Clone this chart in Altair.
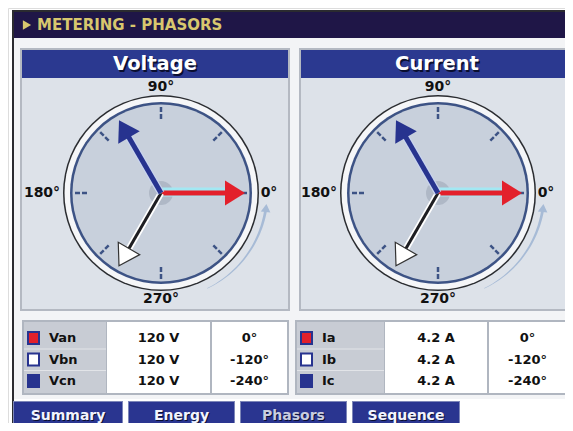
import math
import altair as alt
import pandas as pd

# ---------------- data ----------------
header_title = "METERING - PHASORS"
panel_titles = ["Voltage", "Current"]
phase_colors = ["#e3202b", "#ffffff", "#27338f"]
voltage_names = ["Van", "Vbn", "Vcn"]
voltage_mag = [120, 120, 120]
voltage_text = ["120 V", "120 V", "120 V"]
current_names = ["Ia", "Ib", "Ic"]
current_mag = [4.2, 4.2, 4.2]
current_text = ["4.2 A", "4.2 A", "4.2 A"]
phase_angles = [0, -120, -240]
angle_text = ["0°", "-120°", "-240°"]
dial_angles = [0, 90, 180, 270]
dial_text = ["0°", "90°", "180°", "270°"]
tab_labels = ["Summary", "Energy", "Phasors", "Sequence"]
active_tab = "Phasors"

# ---------------- layout (screen pixels) ----------------
W, H = 557, 415
OX, OY = 8, 8
FONT = "DejaVu Sans"

xs = alt.Scale(domain=[OX, OX + W], nice=False, zero=False)
ys = alt.Scale(domain=[OY, OY + H], nice=False, zero=False, reverse=True)


def X(f="x"):
    return alt.X(f"{f}:Q", scale=xs, axis=None)


def Y(f="y"):
    return alt.Y(f"{f}:Q", scale=ys, axis=None)


panel_x = [(22, 288), (301, 568)]
centers = [161, 438]
CY = 193
table_x = [(24, 106, 107, 210, 212, 287), (297, 384, 385, 487, 489, 566)]
row_y = [338, 359.5, 381]
tab_x = [(13, 123), (128, 235), (240, 347), (352, 460)]

# ---------------- rectangles ----------------
rects = []


def R(x, y, x2, y2, fill):
    rects.append(dict(x=max(x, OX), y=max(y, OY), x2=min(x2, OX + W),
                      y2=min(y2, OY + H), fill=fill))


R(12, 10, 573, 431, "#2b2b30")
R(14, 12, 573, 38, "#1f1647")
R(14, 38, 573, 431, "#f3f4f6")
R(14, 399, 573, 431, "#ffffff")
for p in range(2):
    a, b = panel_x[p]
    R(a - 2, 48, b + 2, 311, "#b4b9c2")
    R(a, 50, b, 309, "#dde2e9")
    R(a, 50, b, 78, "#2b3990")
    t = table_x[p]
    R(t[0] - 2, 320, t[5] + 2, 395, "#b0b6c0")
    R(t[0], 322, t[1], 393, "#c8ccd4")
    R(t[0], 348.5, t[1], 349.5, "#e2e4e8")
    R(t[0], 370, t[1], 371, "#e2e4e8")
    R(t[2], 322, t[3], 393, "#ffffff")
    R(t[4], 322, t[5], 393, "#ffffff")
    for i in range(3):
        sx = t[0] + 3
        ry = row_y[i]
        R(sx, ry - 7, sx + 13, ry + 7, "#27338f")
        R(sx + 2, ry - 5, sx + 11, ry + 5, phase_colors[i])
for (a, b) in tab_x:
    R(a, 401, b, 431, "#7d86b8")
    R(a + 1, 402, b - 1, 431, "#2a3590")

rect_layer = alt.Chart(pd.DataFrame(rects)).mark_rect().encode(
    x=X(), x2="x2:Q", y=Y(), y2="y2:Q", color=alt.Color("fill:N", scale=None))

# ---------------- dial discs ----------------
circ = []
for p in range(2):
    cx = centers[p]
    for r, f in [(98, "#2a2c30"), (96.5, "#f5f6f8"), (91, "#3d5385"), (88.5, "#c8d0dc")]:
        circ.append(dict(x=cx, y=CY, size=(2 * r) ** 2, fill=f))
circ_layer = alt.Chart(pd.DataFrame(circ)).mark_point(
    shape="circle", filled=True, opacity=1, strokeWidth=0).encode(
    x=X(), y=Y(), size=alt.Size("size:Q", scale=None), color=alt.Color("fill:N", scale=None))

# ticks every 45 degrees
ticks = []
for p in range(2):
    cx = centers[p]
    for k in range(8):
        a = math.radians(k * 45)
        ticks.append(dict(x=cx + 74 * math.cos(a), y=CY - 74 * math.sin(a),
                          x2=cx + 86 * math.cos(a), y2=CY - 86 * math.sin(a)))
tick_layer = alt.Chart(pd.DataFrame(ticks)).mark_rule(
    color="#3d5385", strokeWidth=2.5, strokeDash=[5, 2]).encode(
    x=X(), y=Y(), x2="x2:Q", y2="y2:Q")

# rotation arc (counter-clockwise indicator)
arc = []
n = 30
for p in range(2):
    cx = centers[p]
    for j in range(n + 1):
        phi = math.radians(-64 + 54 * j / n)
        arc.append(dict(x=cx + 106 * math.cos(phi), y=CY - 106 * math.sin(phi),
                        w=0.5 + 2.3 * j / n, o=j, g=p))
arc_layer = alt.Chart(pd.DataFrame(arc)).mark_trail(color="#a7bbd6").encode(
    x=X(), y=Y(), size=alt.Size("w:Q", scale=None), order="o:Q", detail="g:N")
arc_heads = []
for p in range(2):
    phi = math.radians(-6)
    arc_heads.append(dict(x=centers[p] + 106 * math.cos(phi), y=CY - 106 * math.sin(phi),
                          rot=(360 - 84) % 360))
arc_head_layer = alt.Chart(pd.DataFrame(arc_heads)).mark_point(
    shape="M0,0L-1,-0.6L-1,0.6Z", filled=True, opacity=1, size=256,
    color="#a7bbd6", strokeWidth=0).encode(
    x=X(), y=Y(), angle=alt.Angle("rot:Q", scale=None))

# hub
hub = [dict(x=centers[p], y=CY) for p in range(2)]
hub_layer = alt.Chart(pd.DataFrame(hub)).mark_point(
    shape="circle", filled=True, opacity=0.8, size=(2 * 12) ** 2,
    color="#a9b2c1", strokeWidth=0).encode(x=X(), y=Y())

# ---------------- phasors ----------------
shafts, heads = [], []
HEAD = 20
for p in range(2):
    cx = centers[p]
    mags = voltage_mag if p == 0 else current_mag
    for i in range(3):
        th = math.radians(phase_angles[i] % 360)
        L = 84 * mags[i] / max(mags)
        ex, ey = cx + (L - HEAD + 3) * math.cos(th), CY - (L - HEAD + 3) * math.sin(th)
        if i == 0:
            under, uw, main, mw, dy = "#a3e8f3", 9, phase_colors[0], 5, -1
        elif i == 1:
            under, uw, main, mw, dy = "#ffffff", 6.5, "#1e1e22", 3, 0
        else:
            under, uw, main, mw, dy = "#c9d4ee", 7.5, phase_colors[2], 5, 0
        shafts.append(dict(x=cx, y=CY + dy, x2=ex, y2=ey + dy, c=under, w=uw))
        shafts.append(dict(x=cx, y=CY, x2=ex, y2=ey, c=main, w=mw))
        heads.append(dict(x=cx + L * math.cos(th), y=CY - L * math.sin(th),
                          rot=(360 - phase_angles[i] % 360) % 360,
                          c=phase_colors[i], s="#333333" if i == 1 else phase_colors[i],
                          sw=1.2 if i == 1 else 0))
shaft_layer = alt.Chart(pd.DataFrame(shafts)).mark_rule().encode(
    x=X(), y=Y(), x2="x2:Q", y2="y2:Q",
    color=alt.Color("c:N", scale=None), strokeWidth=alt.StrokeWidth("w:Q", scale=None))
head_layer = alt.Chart(pd.DataFrame(heads)).mark_point(
    shape="M0,0L-1,-0.62L-1,0.62Z", filled=True, opacity=1, size=(2 * HEAD) ** 2).encode(
    x=X(), y=Y(), angle=alt.Angle("rot:Q", scale=None),
    color=alt.Color("c:N", scale=None), stroke=alt.Stroke("s:N", scale=None),
    strokeWidth=alt.StrokeWidth("sw:Q", scale=None))

# header triangle
tri_layer = alt.Chart(pd.DataFrame([dict(x=27, y=25)])).mark_point(
    shape="triangle-right", filled=True, opacity=1, size=90, color="#d8c76e",
    strokeWidth=0).encode(x=X(), y=Y())

# ---------------- text ----------------
tc, tl = [], []
tl.append(dict(x=37, y=25, t=header_title, c="#d8c76e", s=15))
title_cx = [155, 437]
for p in range(2):
    tc.append(dict(x=title_cx[p] + 1.5, y=65.5, t=panel_titles[p], c="#0a0f30", s=19.5))
    tc.append(dict(x=title_cx[p], y=64, t=panel_titles[p], c="#ffffff", s=19.5))
    cx = centers[p]
    offs = {0: (108, 0), 90: (0, -106), 180: (-119, 0), 270: (0, 106)}
    for a, lab in zip(dial_angles, dial_text):
        dx, dy = offs[a]
        tc.append(dict(x=cx + dx, y=CY + dy, t=lab, c="#111111", s=14))
    t = table_x[p]
    names = voltage_names if p == 0 else current_names
    vals = voltage_text if p == 0 else current_text
    for i in range(3):
        tl.append(dict(x=t[0] + 25, y=row_y[i], t=names[i], c="#111111", s=13))
        tc.append(dict(x=(t[2] + t[3]) / 2, y=row_y[i], t=vals[i], c="#111111", s=13))
        tc.append(dict(x=(t[4] + t[5]) / 2, y=row_y[i], t=angle_text[i], c="#111111", s=13))
for (a, b), lab in zip(tab_x, tab_labels):
    tc.append(dict(x=(a + b) / 2 + 1, y=417, t=lab, c="#0a0f30", s=14))
    tc.append(dict(x=(a + b) / 2, y=416, t=lab,
                   c="#c9cde0" if lab == active_tab else "#f2f4ff", s=14))


def text_layer(rows, align):
    return alt.Chart(pd.DataFrame(rows)).mark_text(
        align=align, baseline="middle", font=FONT, fontWeight="bold").encode(
        x=X(), y=Y(), text="t:N", color=alt.Color("c:N", scale=None),
        size=alt.Size("s:Q", scale=None))


chart = alt.layer(
    rect_layer, circ_layer, tick_layer, arc_layer, arc_head_layer, hub_layer,
    shaft_layer, head_layer, tri_layer,
    text_layer(tc, "center"), text_layer(tl, "left"),
).properties(
    width=W, height=H, padding=0, autosize=alt.AutoSizeParams(type="none")
).configure_view(stroke=None).configure(background="white")

chart.save("out.html", embed_options={"renderer": "svg", "actions": False})
